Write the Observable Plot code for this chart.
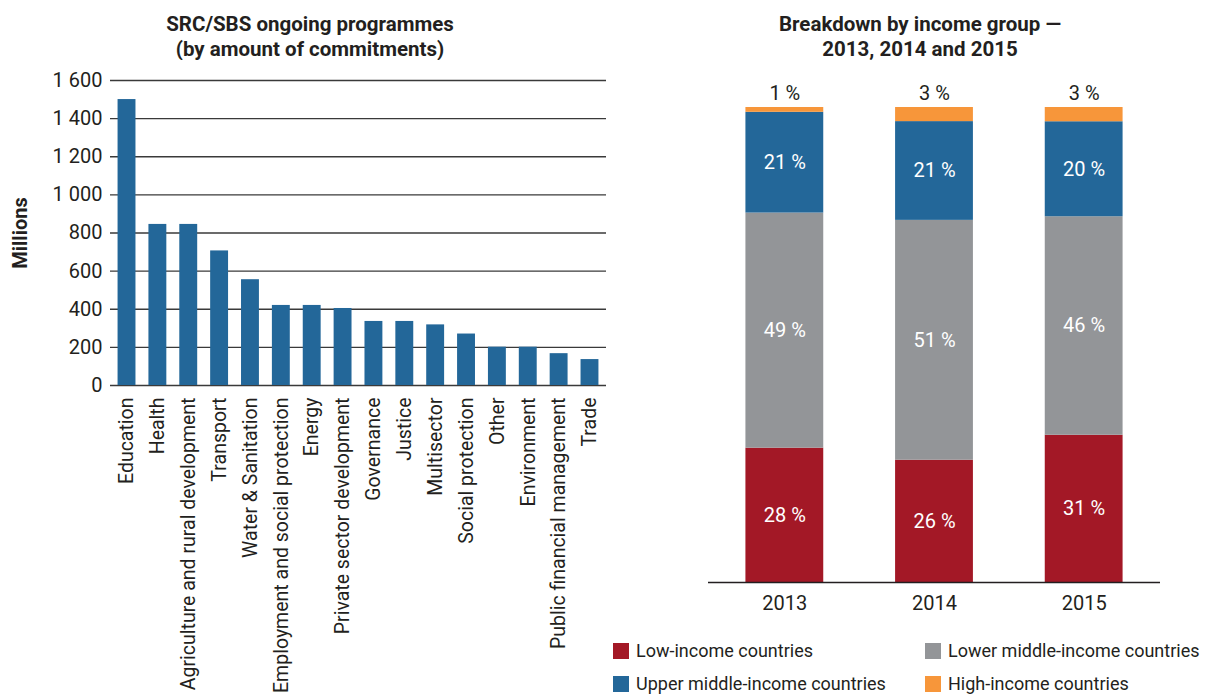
<!DOCTYPE html>
<html>
<head>
<meta charset="utf-8">
<script src="https://cdn.jsdelivr.net/npm/d3@7"></script>
<script src="https://cdn.jsdelivr.net/npm/@observablehq/plot@0.6"></script>
<style>
  body { margin: 0; background: #fff; font-family: Roboto, "Noto Sans", sans-serif; color: #231f20; }
  #wrap { position: relative; width: 1215px; height: 695px; overflow: hidden; }
  .title { position: absolute; text-align: center; font-weight: bold; font-size: 20.5px; line-height: 25px; white-space: nowrap; }
  .plot { position: absolute; }
  .leg { position: absolute; font-size: 18px; line-height: 18px; white-space: nowrap; }
  .sw { position: absolute; width: 16px; height: 16px; }
</style>
</head>
<body>
<div id="wrap">
  <div class="title" style="left:110px; width:400px; top:12px;">SRC/SBS ongoing programmes<br>(by amount of commitments)</div>
  <div class="title" style="left:720px; width:400px; top:12px;">Breakdown by income group —<br>2013, 2014 and 2015</div>
  <div id="left" class="plot" style="left:0px; top:60px;"></div>
  <div id="right" class="plot" style="left:615px; top:60px;"></div>
  <div id="legend"></div>
</div>
<script>
// ---- Left chart data ----
const categories = ["Education", "Health", "Agriculture and rural development", "Transport", "Water & Sanitation",
  "Employment and social protection", "Energy", "Private sector development", "Governance", "Justice",
  "Multisector", "Social protection", "Other", "Environment", "Public financial management", "Trade"];
const commitments = [1500, 845, 845, 706, 555, 420, 420, 404, 336, 336, 318, 270, 201, 201, 167, 136];
const yTicks = [0, 200, 400, 600, 800, 1000, 1200, 1400, 1600];

// ---- Right chart data ----
const years = ["2013", "2014", "2015"];
const groups = ["Low-income countries", "Lower middle-income countries", "Upper middle-income countries", "High-income countries"];
const lowIncome = [28, 26, 31];
const lowerMiddle = [49, 51, 46];
const upperMiddle = [21, 21, 20];
const highIncome = [1, 3, 3];
const groupColors = ["#a31826", "#939598", "#236799", "#f7963a"];

const blue = "#236799";
const textColor = "#231f20";

const fmt = d => d3.format(",")(d).replace(/,/g, " ");

const barData = categories.map((c, i) => ({category: c, value: commitments[i]}));

const left = Plot.plot({
  width: 615,
  height: 635,
  marginTop: 20,
  marginBottom: 310,
  marginLeft: 110,
  marginRight: 9,
  style: {fontFamily: "Roboto, 'Noto Sans', sans-serif", fontSize: "19px", color: textColor, background: "white"},
  x: {domain: categories, paddingInner: 0.42, paddingOuter: 0.245, round: false, label: null},
  y: {domain: [0, 1600], label: null},
  marks: [
    Plot.ruleY(yTicks, {stroke: "#3a3a3a", strokeWidth: 1.4}),
    Plot.barY(barData, {x: "category", y: "value", fill: blue}),
    Plot.axisY({ticks: yTicks, tickFormat: fmt, tickSize: 0, tickPadding: 8, label: null, fontSize: 20}),
    Plot.axisX({tickRotate: -90, tickSize: 0, tickPadding: 12, label: null, fontSize: 19.5}),
    Plot.text(["Millions"], {frameAnchor: "left", textAnchor: "middle", dx: -90, rotate: -90, fontWeight: "bold", fontSize: 20, fill: textColor})
  ]
});
document.getElementById("left").appendChild(left);

const rows = [];
const series = [lowIncome, lowerMiddle, upperMiddle, highIncome];
years.forEach((y, i) => {
  groups.forEach((g, j) => rows.push({year: y, group: g, value: series[j][i]}));
});
const highRows = rows.filter(d => d.group === groups[3]);

const right = Plot.plot({
  width: 600,
  height: 562,
  marginTop: 47,
  marginBottom: 40,
  marginLeft: 93,
  marginRight: 55,
  style: {fontFamily: "Roboto, 'Noto Sans', sans-serif", fontSize: "20px", color: textColor, background: "white"},
  x: {domain: years, paddingInner: 0.48, paddingOuter: 0.25, round: false, label: null},
  y: {domain: [0, 1], axis: null},
  color: {domain: groups, range: groupColors},
  marks: [
    Plot.barY(rows, Plot.stackY({x: "year", y: "value", fill: "group", offset: "normalize", order: groups})),
    Plot.text(rows, Plot.stackY({x: "year", y: "value", z: "group", offset: "normalize", order: groups,
      text: d => d.group === groups[3] ? "" : d.value + " %", fill: "white", fontSize: 20})),
    Plot.text(highRows, {x: "year", frameAnchor: "top", lineAnchor: "middle", dy: -14, text: d => d.value + " %", fill: textColor, fontSize: 20}),
    Plot.ruleY([0], {stroke: "#231f20", strokeWidth: 1.5}),
    Plot.axisX({tickSize: 0, tickPadding: 13, label: null, fontSize: 20})
  ]
});
document.getElementById("right").appendChild(right);

// Legend
const legendPos = [[613, 643], [925, 643], [613, 676], [925, 676]];
const legend = document.getElementById("legend");
groups.forEach((g, i) => {
  const [x, y] = legendPos[i];
  const sw = document.createElement("div");
  sw.className = "sw";
  sw.style.left = x + "px"; sw.style.top = y + "px"; sw.style.background = groupColors[i];
  legend.appendChild(sw);
  const t = document.createElement("div");
  t.className = "leg";
  t.style.left = (x + 23) + "px"; t.style.top = (y - 1) + "px";
  t.textContent = g;
  legend.appendChild(t);
});
</script>
</body>
</html>
